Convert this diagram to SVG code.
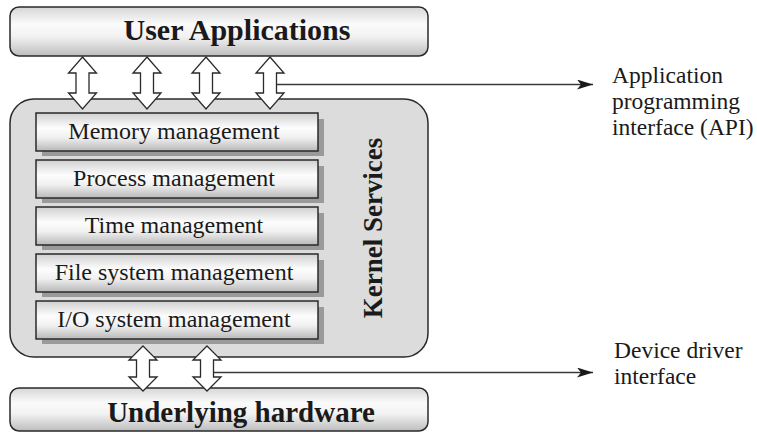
<svg xmlns="http://www.w3.org/2000/svg" width="757" height="433" viewBox="0 0 757 433">
  <defs>
    <linearGradient id="barGrad" x1="0" y1="0" x2="0" y2="1">
      <stop offset="0" stop-color="#d6d6d6"/>
      <stop offset="0.35" stop-color="#fbfbfb"/>
      <stop offset="0.6" stop-color="#f2f2f2"/>
      <stop offset="1" stop-color="#bdbdbd"/>
    </linearGradient>
    <linearGradient id="svcGrad" x1="0" y1="0" x2="0" y2="1">
      <stop offset="0" stop-color="#d0d0d0"/>
      <stop offset="0.4" stop-color="#fdfdfd"/>
      <stop offset="0.65" stop-color="#f0f0f0"/>
      <stop offset="1" stop-color="#b8b8b8"/>
    </linearGradient>
    <marker id="tip" viewBox="0 0 16 10" refX="16" refY="5" markerWidth="16" markerHeight="10" markerUnits="userSpaceOnUse" orient="auto">
      <path d="M0,0 L16,5 L0,10 L4,5 Z" fill="#1a1a1a"/>
    </marker>
    <style>
      .layer { fill: url(#barGrad); stroke: #2a2a2a; stroke-width: 1.5; }
      .kernel { fill: #dcdcdc; stroke: #2a2a2a; stroke-width: 1.5; }
      .svc { fill: url(#svcGrad); stroke: #2a2a2a; stroke-width: 1.5; }
      .shadow { fill: #9a9a9a; }
      .dbl { fill: #ffffff; stroke: #2a2a2a; stroke-width: 1.3; stroke-linejoin: miter; }
      .lead { fill: none; stroke: #3a3a3a; stroke-width: 1.5; marker-end: url(#tip); }
      .big { font-family: "Liberation Serif", "Times New Roman", serif; font-weight: bold; font-size: 29px; fill: #1a1a1a; text-anchor: middle; }
      .side { font-family: "Liberation Serif", "Times New Roman", serif; font-weight: bold; font-size: 27px; fill: #1a1a1a; text-anchor: middle; }
      .svcText { font-family: "Liberation Serif", "Times New Roman", serif; font-size: 24px; fill: #1a1a1a; text-anchor: middle; }
      .note { font-family: "Liberation Serif", "Times New Roman", serif; font-size: 23.5px; fill: #1a1a1a; }
    </style>
  </defs>

  <rect width="757" height="433" fill="#ffffff"/>

  <!-- top layer -->
  <g id="user-applications">
    <rect class="layer" x="10" y="7" width="418" height="49" rx="9"/>
    <text class="big" x="237" y="40" style="font-size:30px">User Applications</text>
  </g>

  <!-- kernel container with its services -->
  <g id="kernel-services">
    <rect class="kernel" x="10" y="99" width="418" height="258" rx="24"/>
    <text class="side" transform="translate(382,228) rotate(-90)">Kernel Services</text>
  </g>

  <g id="memory-management">
    <rect class="shadow" x="42" y="119" width="282" height="37"/>
    <rect class="svc" x="36" y="113" width="282" height="38"/>
    <text class="svcText" x="174" y="138.5">Memory management</text>
  </g>
  <g id="process-management">
    <rect class="shadow" x="42" y="166" width="282" height="37"/>
    <rect class="svc" x="36" y="160" width="282" height="38"/>
    <text class="svcText" x="174" y="185.5">Process management</text>
  </g>
  <g id="time-management">
    <rect class="shadow" x="42" y="213" width="282" height="37"/>
    <rect class="svc" x="36" y="207" width="282" height="38"/>
    <text class="svcText" x="174" y="232.5">Time management</text>
  </g>
  <g id="file-system-management">
    <rect class="shadow" x="42" y="260" width="282" height="37"/>
    <rect class="svc" x="36" y="254" width="282" height="38"/>
    <text class="svcText" x="174" y="279.5">File system management</text>
  </g>
  <g id="io-system-management">
    <rect class="shadow" x="42" y="307" width="282" height="37"/>
    <rect class="svc" x="36" y="301" width="282" height="38"/>
    <text class="svcText" x="174" y="326.5">I/O system management</text>
  </g>

  <!-- bottom layer -->
  <g id="underlying-hardware">
    <rect class="layer" x="10" y="388" width="418" height="43" rx="9"/>
    <text class="big" x="241" y="422">Underlying hardware</text>
  </g>

  <!-- interface labels -->
  <g id="api-label">
    <text class="note" x="612" y="83">Application</text>
    <text class="note" x="612" y="109">programming</text>
    <text class="note" x="612" y="135">interface (API)</text>
  </g>
  <g id="driver-label">
    <text class="note" x="614" y="358">Device driver</text>
    <text class="note" x="614" y="384">interface</text>
  </g>

  <!-- connectors -->
  <g id="connectors">
    <!-- API double arrows -->
    <path class="dbl" d="M82.5,57 L96.5,73 L89,73 L89,93 L96.5,93 L82.5,109 L68.5,93 L76,93 L76,73 L68.5,73 Z"/>
    <path class="dbl" d="M147,57 L161,73 L153.5,73 L153.5,93 L161,93 L147,109 L133,93 L140.5,93 L140.5,73 L133,73 Z"/>
    <path class="dbl" d="M206,57 L220,73 L212.5,73 L212.5,93 L220,93 L206,109 L192,93 L199.5,93 L199.5,73 L192,73 Z"/>
    <path class="dbl" d="M270,57 L284,73 L276.5,73 L276.5,93 L284,93 L270,109 L256,93 L263.5,93 L263.5,73 L256,73 Z"/>
    <!-- device driver double arrows -->
    <path class="dbl" d="M143,346 L157,360 L149.5,360 L149.5,377 L157,377 L143,391 L129,377 L136.5,377 L136.5,360 L129,360 Z"/>
    <path class="dbl" d="M207,346 L221,360 L213.5,360 L213.5,377 L221,377 L207,391 L193,377 L200.5,377 L200.5,360 L193,360 Z"/>
    <!-- leader lines to the interface labels -->
    <line class="lead" x1="277" y1="84.5" x2="593" y2="84.5"/>
    <line class="lead" x1="214" y1="372.5" x2="593" y2="372.5"/>
  </g>
</svg>
